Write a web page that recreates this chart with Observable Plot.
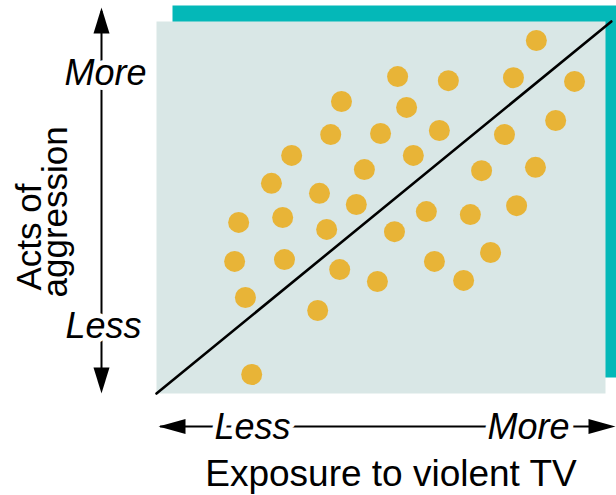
<!DOCTYPE html>
<html>
<head>
<meta charset="utf-8">
<script src="https://cdn.jsdelivr.net/npm/d3@7"></script>
<script src="https://cdn.jsdelivr.net/npm/@observablehq/plot@0.6"></script>
<style>
  html, body { margin: 0; padding: 0; background: #ffffff; }
  #chart { width: 616px; height: 495px; }
</style>
</head>
<body>
<div id="chart"></div>
<script>
// Exposure to violent TV (x) and acts of aggression (y), relative units 0–100
const exposure = [84.6, 53.7, 65.0, 79.5, 93.1, 41.2, 55.7, 38.8, 49.9, 63.0, 88.9, 77.5,
  30.1, 57.2, 46.3, 72.4, 84.4, 25.6, 36.3, 44.5, 18.3, 28.1, 37.9, 60.1, 69.9, 80.2,
  53.0, 17.4, 28.5, 40.8, 61.9, 74.4, 49.2, 68.4, 19.8, 35.9, 21.2];
const aggression = [94.9, 85.2, 84.1, 84.9, 83.9, 78.5, 76.9, 69.6, 69.9, 70.7, 73.4, 69.6,
  64.0, 64.0, 60.2, 59.9, 60.8, 56.5, 53.8, 50.8, 46.0, 47.3, 44.1, 48.9, 48.1, 50.5,
  43.5, 35.5, 36.0, 33.3, 35.5, 37.9, 30.1, 30.4, 25.8, 22.3, 5.1];
// Trend line end points
const trendX = [0, 101.3];
const trendY = [0, 100];
// Labels
const lowLabel = "Less";
const highLabel = "More";
const xTitle = "Exposure to violent TV";
const yTitleLines = ["Acts of", "aggression"];

const points = exposure.map((x, i) => ({x, y: aggression[i]}));
const trend = trendX.map((x, i) => ({x, y: trendY[i]}));

const FONT = "'Liberation Sans', Arial, Helvetica, sans-serif";
const PANEL = "#d9e7e6";
const TEAL = "#04b8b8";
const DOT = "#e8b437";
const halo = {stroke: "white", strokeWidth: 10, paintOrder: "stroke", fill: "black"};

const chart = Plot.plot({
  width: 616,
  height: 495,
  marginLeft: 156,
  marginRight: 11,
  marginTop: 21,
  marginBottom: 102,
  x: {domain: [0, 100], axis: null},
  y: {domain: [0, 100], axis: null},
  style: {background: "white", fontFamily: FONT, overflow: "visible"},
  marks: [
    // teal shadow panel
    Plot.frame({fill: TEAL, stroke: "none", insetLeft: 16, insetRight: -16, insetTop: -16, insetBottom: 16}),
    // main panel
    Plot.frame({fill: PANEL, stroke: "none"}),
    // data
    Plot.dot(points, {x: "x", y: "y", r: 10.5, fill: DOT, stroke: "none"}),
    Plot.line(trend, {x: "x", y: "y", stroke: "black", strokeWidth: 2.6}),
    // vertical (aggression) arrow
    Plot.ruleX([0], {dx: -55, insetTop: -10, insetBottom: 5, stroke: "black", strokeWidth: 2}),
    Plot.vector([0], {frameAnchor: "top-left", dx: -55, dy: -14, anchor: "end", rotate: 0, length: 26, r: 8, shape: "spike", fill: "black", stroke: "none"}),
    Plot.vector([0], {frameAnchor: "bottom-left", dx: -55, dy: 0, anchor: "end", rotate: 180, length: 26, r: 8, shape: "spike", fill: "black", stroke: "none"}),
    // horizontal (exposure) arrow
    Plot.ruleY([0], {dy: 33, insetLeft: 4, insetRight: -5, stroke: "black", strokeWidth: 2}),
    Plot.vector([0], {frameAnchor: "bottom-left", dx: 2, dy: 33, anchor: "end", rotate: -90, length: 27, r: 7.5, shape: "spike", fill: "black", stroke: "none"}),
    Plot.vector([0], {frameAnchor: "bottom-right", dx: 10, dy: 33, anchor: "end", rotate: 90, length: 27, r: 7.5, shape: "spike", fill: "black", stroke: "none"}),
    // y labels
    Plot.text([highLabel], {text: d => d, frameAnchor: "top-left", dx: -51, dy: 63, textAnchor: "middle", lineAnchor: "bottom", fontSize: 36, fontStyle: "italic", ...halo}),
    Plot.text([lowLabel], {text: d => d, frameAnchor: "top-left", dx: -53, dy: 316, textAnchor: "middle", lineAnchor: "bottom", fontSize: 36, fontStyle: "italic", ...halo}),
    // x labels
    Plot.text([lowLabel], {text: d => d, frameAnchor: "bottom-left", dx: 96, dy: 45, textAnchor: "middle", lineAnchor: "bottom", fontSize: 36, fontStyle: "italic", ...halo}),
    Plot.text([highLabel], {text: d => d, frameAnchor: "bottom-left", dx: 372, dy: 45, textAnchor: "middle", lineAnchor: "bottom", fontSize: 36, fontStyle: "italic", ...halo}),
    // axis titles
    Plot.text([xTitle], {text: d => d, frameAnchor: "bottom", dx: 10, dy: 92, textAnchor: "middle", lineAnchor: "bottom", fontSize: 37, fill: "black"}),
    Plot.text([yTitleLines[0]], {text: d => d, frameAnchor: "bottom-left", dx: -116, dy: -103, rotate: -90, textAnchor: "start", lineAnchor: "bottom", fontSize: 35, fill: "black"}),
    Plot.text([yTitleLines[1]], {text: d => d, frameAnchor: "bottom-left", dx: -90, dy: -96, rotate: -90, textAnchor: "start", lineAnchor: "bottom", fontSize: 35, fill: "black"})
  ]
});
document.getElementById("chart").appendChild(chart);
</script>
</body>
</html>
